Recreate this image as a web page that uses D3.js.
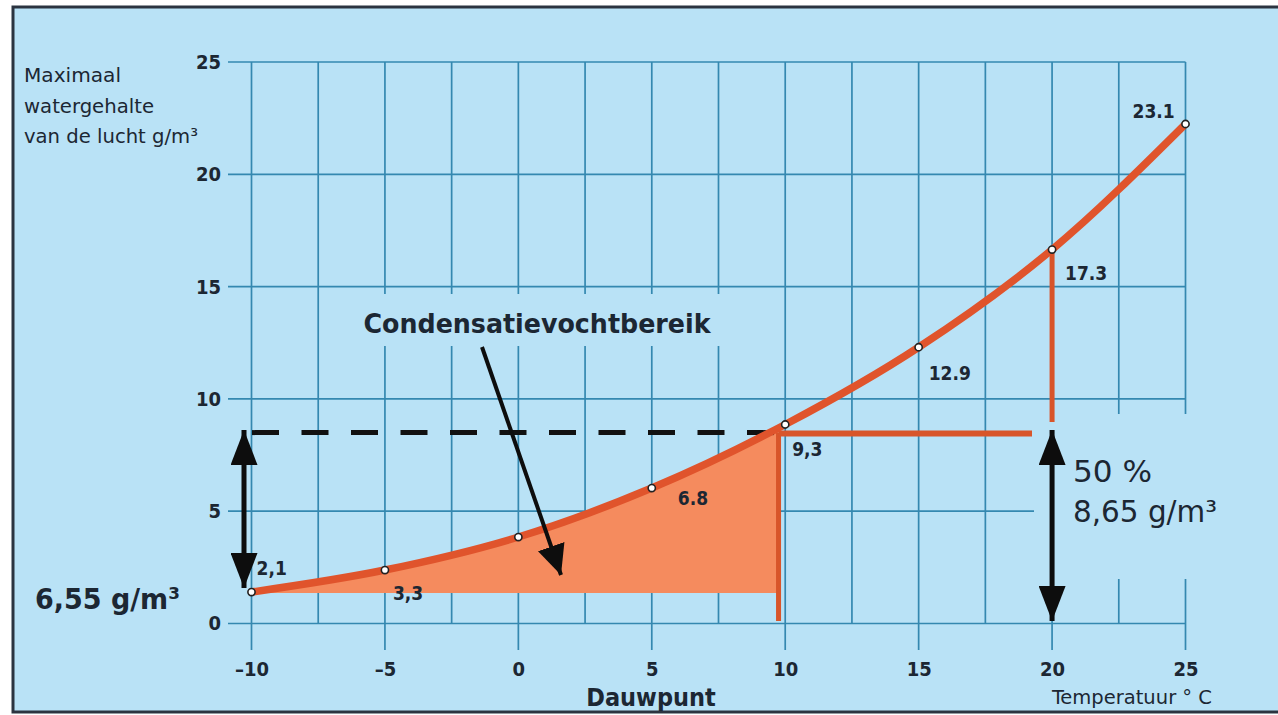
<!DOCTYPE html>
<html>
<head>
<meta charset="utf-8">
<script src="https://cdn.jsdelivr.net/npm/d3@7"></script>
<style>
  body { margin: 0; background: #fff; }
  svg text { font-family: "DejaVu Sans Condensed", "DejaVu Sans", sans-serif; fill: #1c2733; }
</style>
</head>
<body>
<div id="chart"></div>
<script>
// data
var temps = [-10, -5, 0, 5, 10, 15, 20, 25];
var waterContent = [1.4, 2.38, 3.85, 6.03, 8.86, 12.3, 16.65, 22.24];
var pointLabels = ["2,1", "3,3", "", "6.8", "9,3", "12.9", "17.3", "23.1"];
var xTicks = [-10, -5, 0, 5, 10, 15, 20, 25];
var xGrid = [-10, -7.5, -5, -2.5, 0, 2.5, 5, 7.5, 10, 12.5, 15, 17.5, 20, 22.5, 25];
var yTicks = [0, 5, 10, 15, 20, 25];
var dewPoint = 9.75;      // where the fill stops
var dewContent = 8.72;    // curve value at the dew point
var actualContent = 8.5;  // dashed line level
var fillBase = 1.36;

var svgWidth = 1278;
var svgHeight = 715;

var svg = d3.select("#chart")
  .append("svg")
  .attr("width", svgWidth)
  .attr("height", svgHeight);

// background panel + frame
svg.append("rect")
  .attr("x", 13).attr("y", 7)
  .attr("width", 1275).attr("height", 705)
  .attr("fill", "#b9e2f6")
  .attr("stroke", "#2b3440")
  .attr("stroke-width", 3);

var x = d3.scaleLinear().domain([-10, 25]).range([251.5, 1185.5]);
var y = d3.scaleLinear().domain([0, 25]).range([623.5, 62]);

var gridColor = "#3488b0";
var grid = svg.append("g");

// horizontal grid
grid.selectAll(".hgrid")
  .data(yTicks)
  .enter()
  .append("line")
  .attr("x1", 228)
  .attr("x2", x(25))
  .attr("y1", d => y(d))
  .attr("y2", d => y(d))
  .attr("stroke", gridColor)
  .attr("stroke-width", 1.7);

// vertical grid, major ones reach below the axis
grid.selectAll(".vgrid")
  .data(xGrid)
  .enter()
  .append("line")
  .attr("x1", d => x(d))
  .attr("x2", d => x(d))
  .attr("y1", y(25))
  .attr("y2", d => xTicks.indexOf(d) >= 0 ? 650 : y(0))
  .attr("stroke", gridColor)
  .attr("stroke-width", 1.7);

// cleared boxes behind texts
svg.append("rect")
  .attr("x", 356).attr("y", 294).attr("width", 364).attr("height", 52)
  .attr("fill", "#b9e2f6");
svg.append("rect")
  .attr("x", 1034).attr("y", 414).attr("width", 200).attr("height", 165)
  .attr("fill", "#b9e2f6");

// axes labels (no lines, grid does that)
var yAxis = svg.append("g")
  .attr("transform", "translate(221,0)")
  .call(d3.axisLeft(y).tickValues(yTicks).tickSize(0).tickPadding(0));
yAxis.select(".domain").remove();
yAxis.selectAll("text")
  .style("font-size", "20px")
  .style("font-weight", "bold")
  .attr("fill", "#1c2733");

var xAxis = svg.append("g")
  .attr("transform", "translate(0,662)")
  .call(d3.axisBottom(x).tickValues(xTicks).tickSize(0).tickPadding(0)
    .tickFormat(d => d < 0 ? "\u2013" + Math.abs(d) : d));
xAxis.select(".domain").remove();
xAxis.selectAll("text")
  .style("font-size", "20px")
  .style("font-weight", "bold")
  .attr("fill", "#1c2733");

var pts = temps.map((t, i) => [t, waterContent[i]]);
var curveLine = d3.line()
  .x(d => x(d[0]))
  .y(d => y(d[1]))
  .curve(d3.curveMonotoneX);

// fill area between base level and curve, up to dew point
var fillPts = pts.filter(d => d[0] <= dewPoint);
fillPts.push([dewPoint, dewContent]);
var area = d3.area()
  .x(d => x(d[0]))
  .y0(y(fillBase))
  .y1(d => y(d[1]))
  .curve(d3.curveMonotoneX);
svg.append("path")
  .attr("d", area(fillPts))
  .attr("fill", "#f58b5e");

// dashed line (actual content)
svg.append("line")
  .attr("x1", 252).attr("x2", x(dewPoint))
  .attr("y1", y(actualContent)).attr("y2", y(actualContent))
  .attr("stroke", "#111")
  .attr("stroke-width", 5)
  .attr("stroke-dasharray", "27,22.5");

// orange construction lines
var orange = "#d8552a";
svg.append("line")
  .attr("x1", x(dewPoint)).attr("x2", x(dewPoint))
  .attr("y1", y(actualContent)).attr("y2", 621)
  .attr("stroke", orange).attr("stroke-width", 5);
svg.append("line")
  .attr("x1", x(dewPoint)).attr("x2", 1032)
  .attr("y1", y(actualContent) + 1).attr("y2", y(actualContent) + 1)
  .attr("stroke", orange).attr("stroke-width", 6);
svg.append("line")
  .attr("x1", x(20)).attr("x2", x(20))
  .attr("y1", y(16.65)).attr("y2", 422)
  .attr("stroke", orange).attr("stroke-width", 5);

// main curve
svg.append("path")
  .attr("d", curveLine(pts))
  .attr("fill", "none")
  .attr("stroke", "#e0542c")
  .attr("stroke-width", 7.5)
  .attr("stroke-linecap", "round");

// point markers
svg.selectAll(".pt")
  .data(pts)
  .enter()
  .append("circle")
  .attr("cx", d => x(d[0]))
  .attr("cy", d => y(d[1]))
  .attr("r", 3.6)
  .attr("fill", "#fff")
  .attr("stroke", "#222")
  .attr("stroke-width", 1.6);

// point labels
var labelOffsets = [[5, -17], [8, 30], [0, 0], [26, 17], [7, 31], [10, 33], [13, 30], [-53, -6]];
svg.selectAll(".plabel")
  .data(pts)
  .enter()
  .append("text")
  .attr("x", (d, i) => x(d[0]) + labelOffsets[i][0])
  .attr("y", (d, i) => y(d[1]) + labelOffsets[i][1])
  .style("font-size", "19px")
  .style("font-weight", "bold")
  .text((d, i) => pointLabels[i]);

// arrow marker
var defs = svg.append("defs");
function arrowHead(id, w, l) {
  defs.append("marker")
    .attr("id", id)
    .attr("viewBox", "0 0 " + l + " " + w)
    .attr("refX", l).attr("refY", w / 2)
    .attr("markerWidth", l).attr("markerHeight", w)
    .attr("markerUnits", "userSpaceOnUse")
    .attr("orient", "auto-start-reverse")
    .append("path")
    .attr("d", "M0,0L" + l + "," + (w / 2) + "L0," + w + "Z")
    .attr("fill", "#0d0d0d");
}
arrowHead("ah", 27, 35);
arrowHead("ah2", 28, 30);

// left double arrow
svg.append("line")
  .attr("x1", 244).attr("x2", 244)
  .attr("y1", 430).attr("y2", 588)
  .attr("stroke", "#0d0d0d").attr("stroke-width", 5)
  .attr("marker-start", "url(#ah)")
  .attr("marker-end", "url(#ah)");

// right double arrow
svg.append("line")
  .attr("x1", x(20)).attr("x2", x(20))
  .attr("y1", 430).attr("y2", 621)
  .attr("stroke", "#0d0d0d").attr("stroke-width", 5)
  .attr("marker-start", "url(#ah)")
  .attr("marker-end", "url(#ah)");

// label arrow
svg.append("line")
  .attr("x1", 482).attr("x2", 561)
  .attr("y1", 347).attr("y2", 575)
  .attr("stroke", "#0d0d0d").attr("stroke-width", 4)
  .attr("marker-end", "url(#ah2)");

// texts
svg.append("text")
  .attr("x", 537).attr("y", 333)
  .attr("text-anchor", "middle")
  .attr("textLength", 347)
  .attr("lengthAdjust", "spacingAndGlyphs")
  .style("font-size", "26px")
  .style("font-weight", "bold")
  .text("Condensatievochtbereik");

var yLabel = ["Maximaal", "watergehalte", "van de lucht g/m\u00b3"];
var yLabelWidths = [97, 130, 174];
svg.selectAll(".ylab")
  .data(yLabel)
  .enter()
  .append("text")
  .attr("x", 24)
  .attr("y", (d, i) => 82 + i * 30.5)
  .attr("textLength", (d, i) => yLabelWidths[i])
  .attr("lengthAdjust", "spacingAndGlyphs")
  .style("font-size", "20px")
  .text(d => d);

svg.append("text")
  .attr("x", 35).attr("y", 609)
  .attr("textLength", 145)
  .attr("lengthAdjust", "spacingAndGlyphs")
  .style("font-size", "29px")
  .style("font-weight", "bold")
  .text("6,55 g/m\u00b3");

svg.append("text")
  .attr("x", 1073).attr("y", 482)
  .attr("textLength", 79)
  .attr("lengthAdjust", "spacingAndGlyphs")
  .style("font-size", "30px")
  .text("50 %");
svg.append("text")
  .attr("x", 1073).attr("y", 522)
  .attr("textLength", 144)
  .attr("lengthAdjust", "spacingAndGlyphs")
  .style("font-size", "30px")
  .text("8,65 g/m\u00b3");

svg.append("text")
  .attr("x", 651).attr("y", 706)
  .attr("text-anchor", "middle")
  .style("font-size", "25px")
  .style("font-weight", "bold")
  .text("Dauwpunt");

svg.append("text")
  .attr("x", 1052).attr("y", 704)
  .attr("textLength", 160)
  .attr("lengthAdjust", "spacingAndGlyphs")
  .style("font-size", "19px")
  .text("Temperatuur \u00b0 C");
</script>
</body>
</html>
